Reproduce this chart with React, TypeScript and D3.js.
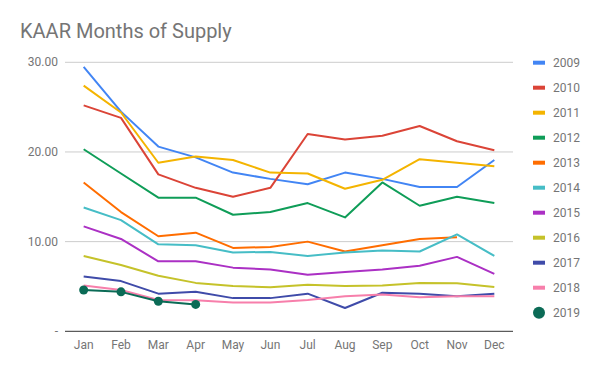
import React from "react";
import * as d3 from "d3";

const months = ["Jan","Feb","Mar","Apr","May","Jun","Jul","Aug","Sep","Oct","Nov","Dec"];
const years = ["2009","2010","2011","2012","2013","2014","2015","2016","2017","2018","2019"];
const colors = ["#4285F4","#DB4437","#F4B400","#0F9D58","#FF6D00","#46BDC6","#AB30C4","#C5C22A","#3F4BA9","#F77FAB","#0B6B56"];

const v2009 = [29.5,24.5,20.6,19.4,17.7,17.0,16.4,17.7,17.0,16.1,16.1,19.1];
const v2010 = [25.2,23.8,17.5,16.0,15.0,16.0,22.0,21.4,21.8,22.9,21.2,20.2];
const v2011 = [27.4,24.4,18.8,19.5,19.1,17.7,17.6,15.9,16.9,19.2,18.8,18.4];
const v2012 = [20.3,17.6,14.9,14.9,13.0,13.3,14.3,12.7,16.6,14.0,15.0,14.3];
const v2013 = [16.6,13.3,10.6,11.0,9.3,9.4,10.0,8.9,9.6,10.3,10.5];
const v2014 = [13.8,12.4,9.7,9.6,8.8,8.85,8.4,8.8,9.0,8.9,10.8,8.4];
const v2015 = [11.7,10.3,7.8,7.8,7.1,6.9,6.3,6.6,6.9,7.3,8.3,6.4];
const v2016 = [8.4,7.4,6.2,5.4,5.05,4.9,5.2,5.05,5.1,5.4,5.35,4.95];
const v2017 = [6.1,5.6,4.2,4.4,3.7,3.7,4.2,2.6,4.3,4.2,3.9,4.2];
const v2018 = [5.1,4.6,3.5,3.45,3.2,3.2,3.5,3.9,4.1,3.8,3.9,3.9];
const v2019 = [4.6,4.4,3.35,3.0];

const seriesValues = [v2009,v2010,v2011,v2012,v2013,v2014,v2015,v2016,v2017,v2018,v2019];
const yTicks = [0,10,20,30];
const yTickLabels = ["-","10.00","20.00","30.00"];

export default function App() {
  const W = 600, H = 371;
  const x = d3.scaleBand<string>().domain(months).range([65, 513]);
  const y = d3.scaleLinear().domain([0, 30]).range([331.3, 62.3]);
  const line = d3.line<number>()
    .x((_, i) => (x(months[i]) as number) + x.bandwidth() / 2)
    .y((d) => y(d));
  const font = "Roboto, Arial, sans-serif";
  return (
    <svg width={W} height={H} style={{ position: "absolute", left: 0, top: 0, background: "#fff" }}>
      <rect width={W} height={H} fill="#fff" />
      <text x={20} y={38} fontFamily={font} fontSize={20} fill="#757575">KAAR Months of Supply</text>
      {yTicks.map((t, i) => (
        <g key={t}>
          {t !== 0 && <line x1={65} x2={513} y1={y(t)} y2={y(t)} stroke="#cccccc" strokeWidth={1} />}
          <text x={58} y={y(t) + 4} textAnchor="end" fontFamily={font} fontSize={12} fill="#757575">{yTickLabels[i]}</text>
        </g>
      ))}
      {months.map((m) => (
        <text key={m} x={(x(m) as number) + x.bandwidth() / 2} y={349} textAnchor="middle" fontFamily={font} fontSize={12} fill="#757575">{m}</text>
      ))}
      {seriesValues.map((vals, i) => (
        <path key={years[i]} d={line(vals) || ""} fill="none" stroke={colors[i]} strokeWidth={2} strokeLinejoin="round" />
      ))}
      {v2019.map((v, i) => (
        <circle key={i} cx={(x(months[i]) as number) + x.bandwidth() / 2} cy={y(v)} r={4.5} fill={colors[10]} />
      ))}
      <line x1={65} x2={513} y1={y(0)} y2={y(0)} stroke="#333" strokeWidth={1} />
      {years.map((yr, i) => {
        const cy = 62.7 + i * 25;
        return (
          <g key={yr}>
            {i === 10 ? (
              <circle cx={539} cy={cy} r={6} fill={colors[i]} />
            ) : (
              <rect x={533} y={cy - 2} width={12} height={4} fill={colors[i]} />
            )}
            <text x={553} y={cy + 4.3} fontFamily={font} fontSize={12} fill="#757575">{yr}</text>
          </g>
        );
      })}
    </svg>
  );
}
